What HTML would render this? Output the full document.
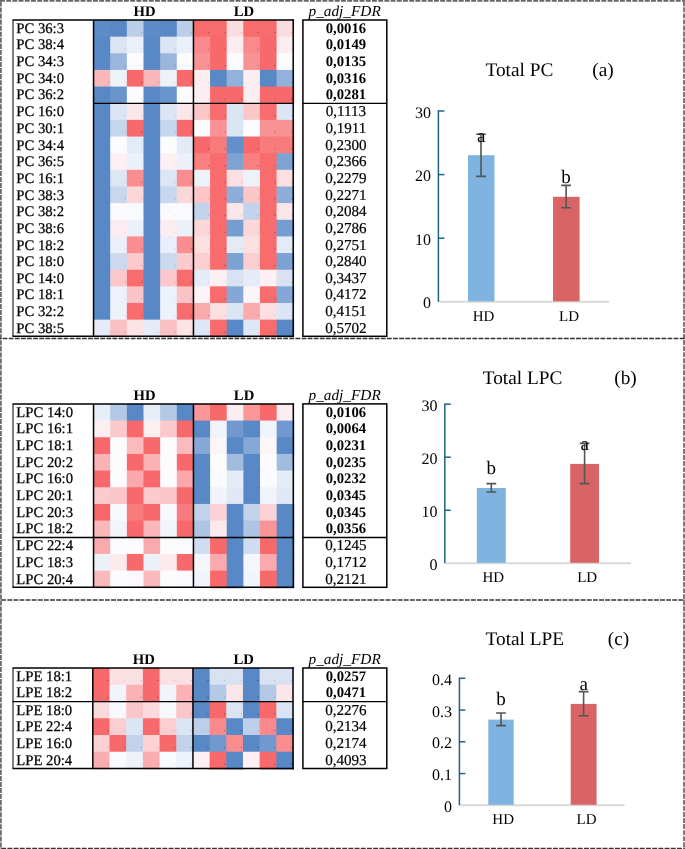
<!DOCTYPE html>
<html><head><meta charset="utf-8"><title>Figure</title>
<style>
html,body{margin:0;padding:0;background:#fff;}
body{width:685px;height:849px;overflow:hidden;}
svg{display:block;will-change:transform;}
text{font-family:"Liberation Serif", serif;fill:#000;text-rendering:geometricPrecision;}
.lab{font-size:14.7px;stroke:#000;stroke-width:0.25px;}
.pb{font-size:14.7px;font-weight:bold;text-anchor:middle;}
.pn{font-size:15.1px;text-anchor:middle;stroke:#000;stroke-width:0.2px;}
.hdr{font-size:14.7px;font-weight:bold;text-anchor:middle;}
.pf{font-size:15.3px;font-style:italic;}
.tick{font-size:16px;text-anchor:end;}
.let{font-size:19px;text-anchor:middle;}
.xl{font-size:15px;text-anchor:middle;}
.ttl{font-size:19.3px;}
</style></head>
<body>
<svg width="685" height="849" viewBox="0 0 685 849">
<rect width="685" height="849" fill="#fff"/>
<rect x="93.55" y="20.00" width="17.65" height="17.65" fill="#5d8bc8"/>
<rect x="110.20" y="20.00" width="17.65" height="17.65" fill="#5888c6"/>
<rect x="126.85" y="20.00" width="17.65" height="17.65" fill="#bccfe9"/>
<rect x="143.50" y="20.00" width="17.65" height="17.65" fill="#5d8bc8"/>
<rect x="160.15" y="20.00" width="17.65" height="17.65" fill="#5888c6"/>
<rect x="176.80" y="20.00" width="17.65" height="17.65" fill="#bccfe9"/>
<rect x="193.45" y="20.00" width="17.62" height="17.65" fill="#f86c6e"/>
<rect x="210.07" y="20.00" width="17.62" height="17.65" fill="#f86c6e"/>
<rect x="226.70" y="20.00" width="17.62" height="17.65" fill="#fbdde0"/>
<rect x="243.32" y="20.00" width="17.62" height="17.65" fill="#f86c6e"/>
<rect x="259.95" y="20.00" width="17.62" height="17.65" fill="#f86c6e"/>
<rect x="276.57" y="20.00" width="17.62" height="17.65" fill="#fbdde0"/>
<rect x="93.55" y="36.65" width="17.65" height="17.65" fill="#5888c6"/>
<rect x="110.20" y="36.65" width="17.65" height="17.65" fill="#dae4f3"/>
<rect x="126.85" y="36.65" width="17.65" height="17.65" fill="#eaeff9"/>
<rect x="143.50" y="36.65" width="17.65" height="17.65" fill="#5888c6"/>
<rect x="160.15" y="36.65" width="17.65" height="17.65" fill="#dae4f3"/>
<rect x="176.80" y="36.65" width="17.65" height="17.65" fill="#eaeff9"/>
<rect x="193.45" y="36.65" width="17.62" height="17.65" fill="#f9898c"/>
<rect x="210.07" y="36.65" width="17.62" height="17.65" fill="#f8696b"/>
<rect x="226.70" y="36.65" width="17.62" height="17.65" fill="#fcedf0"/>
<rect x="243.32" y="36.65" width="17.62" height="17.65" fill="#f9898c"/>
<rect x="259.95" y="36.65" width="17.62" height="17.65" fill="#f8696b"/>
<rect x="276.57" y="36.65" width="17.62" height="17.65" fill="#fcedf0"/>
<rect x="93.55" y="53.29" width="17.65" height="17.65" fill="#5888c6"/>
<rect x="110.20" y="53.29" width="17.65" height="17.65" fill="#9ab6dd"/>
<rect x="126.85" y="53.29" width="17.65" height="17.65" fill="#fcfcff"/>
<rect x="143.50" y="53.29" width="17.65" height="17.65" fill="#5888c6"/>
<rect x="160.15" y="53.29" width="17.65" height="17.65" fill="#9ab6dd"/>
<rect x="176.80" y="53.29" width="17.65" height="17.65" fill="#fcfcff"/>
<rect x="193.45" y="53.29" width="17.62" height="17.65" fill="#f99294"/>
<rect x="210.07" y="53.29" width="17.62" height="17.65" fill="#f8696b"/>
<rect x="226.70" y="53.29" width="17.62" height="17.65" fill="#fcfcff"/>
<rect x="243.32" y="53.29" width="17.62" height="17.65" fill="#f99294"/>
<rect x="259.95" y="53.29" width="17.62" height="17.65" fill="#f8696b"/>
<rect x="276.57" y="53.29" width="17.62" height="17.65" fill="#fcfcff"/>
<rect x="93.55" y="69.94" width="17.65" height="17.65" fill="#fab8bb"/>
<rect x="110.20" y="69.94" width="17.65" height="17.65" fill="#edf2fa"/>
<rect x="126.85" y="69.94" width="17.65" height="17.65" fill="#f8696b"/>
<rect x="143.50" y="69.94" width="17.65" height="17.65" fill="#fab8bb"/>
<rect x="160.15" y="69.94" width="17.65" height="17.65" fill="#edf2fa"/>
<rect x="176.80" y="69.94" width="17.65" height="17.65" fill="#f8696b"/>
<rect x="193.45" y="69.94" width="17.62" height="17.65" fill="#fcedf0"/>
<rect x="210.07" y="69.94" width="17.62" height="17.65" fill="#5888c6"/>
<rect x="226.70" y="69.94" width="17.62" height="17.65" fill="#93b2db"/>
<rect x="243.32" y="69.94" width="17.62" height="17.65" fill="#fcedf0"/>
<rect x="259.95" y="69.94" width="17.62" height="17.65" fill="#5888c6"/>
<rect x="276.57" y="69.94" width="17.62" height="17.65" fill="#93b2db"/>
<rect x="93.55" y="86.59" width="17.65" height="17.65" fill="#5888c6"/>
<rect x="110.20" y="86.59" width="17.65" height="17.65" fill="#6a95cc"/>
<rect x="126.85" y="86.59" width="17.65" height="17.65" fill="#fcfcff"/>
<rect x="143.50" y="86.59" width="17.65" height="17.65" fill="#5888c6"/>
<rect x="160.15" y="86.59" width="17.65" height="17.65" fill="#6a95cc"/>
<rect x="176.80" y="86.59" width="17.65" height="17.65" fill="#fcfcff"/>
<rect x="193.45" y="86.59" width="17.62" height="17.65" fill="#fcedf0"/>
<rect x="210.07" y="86.59" width="17.62" height="17.65" fill="#f8696b"/>
<rect x="226.70" y="86.59" width="17.62" height="17.65" fill="#f8696b"/>
<rect x="243.32" y="86.59" width="17.62" height="17.65" fill="#fcedf0"/>
<rect x="259.95" y="86.59" width="17.62" height="17.65" fill="#f8696b"/>
<rect x="276.57" y="86.59" width="17.62" height="17.65" fill="#f8696b"/>
<rect x="93.55" y="103.24" width="17.65" height="17.65" fill="#5888c6"/>
<rect x="110.20" y="103.24" width="17.65" height="17.65" fill="#dbe5f4"/>
<rect x="126.85" y="103.24" width="17.65" height="17.65" fill="#fbe6e9"/>
<rect x="143.50" y="103.24" width="17.65" height="17.65" fill="#5888c6"/>
<rect x="160.15" y="103.24" width="17.65" height="17.65" fill="#dbe5f4"/>
<rect x="176.80" y="103.24" width="17.65" height="17.65" fill="#fbe6e9"/>
<rect x="193.45" y="103.24" width="17.62" height="17.65" fill="#fbc6c8"/>
<rect x="210.07" y="103.24" width="17.62" height="17.65" fill="#f86c6e"/>
<rect x="226.70" y="103.24" width="17.62" height="17.65" fill="#dbe5f4"/>
<rect x="243.32" y="103.24" width="17.62" height="17.65" fill="#fbc6c8"/>
<rect x="259.95" y="103.24" width="17.62" height="17.65" fill="#f86c6e"/>
<rect x="276.57" y="103.24" width="17.62" height="17.65" fill="#dbe5f4"/>
<rect x="93.55" y="119.88" width="17.65" height="17.65" fill="#5888c6"/>
<rect x="110.20" y="119.88" width="17.65" height="17.65" fill="#c6d6ec"/>
<rect x="126.85" y="119.88" width="17.65" height="17.65" fill="#f8696b"/>
<rect x="143.50" y="119.88" width="17.65" height="17.65" fill="#5888c6"/>
<rect x="160.15" y="119.88" width="17.65" height="17.65" fill="#c6d6ec"/>
<rect x="176.80" y="119.88" width="17.65" height="17.65" fill="#f8696b"/>
<rect x="193.45" y="119.88" width="17.62" height="17.65" fill="#fcfcff"/>
<rect x="210.07" y="119.88" width="17.62" height="17.65" fill="#f99294"/>
<rect x="226.70" y="119.88" width="17.62" height="17.65" fill="#dbe5f4"/>
<rect x="243.32" y="119.88" width="17.62" height="17.65" fill="#fcfcff"/>
<rect x="259.95" y="119.88" width="17.62" height="17.65" fill="#f99294"/>
<rect x="276.57" y="119.88" width="17.62" height="17.65" fill="#f99294"/>
<rect x="93.55" y="136.53" width="17.65" height="17.65" fill="#5888c6"/>
<rect x="110.20" y="136.53" width="17.65" height="17.65" fill="#fcfcff"/>
<rect x="126.85" y="136.53" width="17.65" height="17.65" fill="#e3ebf6"/>
<rect x="143.50" y="136.53" width="17.65" height="17.65" fill="#5888c6"/>
<rect x="160.15" y="136.53" width="17.65" height="17.65" fill="#fcfcff"/>
<rect x="176.80" y="136.53" width="17.65" height="17.65" fill="#e3ebf6"/>
<rect x="193.45" y="136.53" width="17.62" height="17.65" fill="#f8696b"/>
<rect x="210.07" y="136.53" width="17.62" height="17.65" fill="#f87b7d"/>
<rect x="226.70" y="136.53" width="17.62" height="17.65" fill="#6390ca"/>
<rect x="243.32" y="136.53" width="17.62" height="17.65" fill="#f8696b"/>
<rect x="259.95" y="136.53" width="17.62" height="17.65" fill="#f87b7d"/>
<rect x="276.57" y="136.53" width="17.62" height="17.65" fill="#f87b7d"/>
<rect x="93.55" y="153.18" width="17.65" height="17.65" fill="#5888c6"/>
<rect x="110.20" y="153.18" width="17.65" height="17.65" fill="#fcf0f3"/>
<rect x="126.85" y="153.18" width="17.65" height="17.65" fill="#ecf0f9"/>
<rect x="143.50" y="153.18" width="17.65" height="17.65" fill="#5888c6"/>
<rect x="160.15" y="153.18" width="17.65" height="17.65" fill="#fcf0f3"/>
<rect x="176.80" y="153.18" width="17.65" height="17.65" fill="#ecf0f9"/>
<rect x="193.45" y="153.18" width="17.62" height="17.65" fill="#f97f81"/>
<rect x="210.07" y="153.18" width="17.62" height="17.65" fill="#f86c6e"/>
<rect x="226.70" y="153.18" width="17.62" height="17.65" fill="#7ea3d3"/>
<rect x="243.32" y="153.18" width="17.62" height="17.65" fill="#f97f81"/>
<rect x="259.95" y="153.18" width="17.62" height="17.65" fill="#f86c6e"/>
<rect x="276.57" y="153.18" width="17.62" height="17.65" fill="#7ea3d3"/>
<rect x="93.55" y="169.83" width="17.65" height="17.65" fill="#5888c6"/>
<rect x="110.20" y="169.83" width="17.65" height="17.65" fill="#dde6f4"/>
<rect x="126.85" y="169.83" width="17.65" height="17.65" fill="#f98d8f"/>
<rect x="143.50" y="169.83" width="17.65" height="17.65" fill="#5888c6"/>
<rect x="160.15" y="169.83" width="17.65" height="17.65" fill="#dde6f4"/>
<rect x="176.80" y="169.83" width="17.65" height="17.65" fill="#f98d8f"/>
<rect x="193.45" y="169.83" width="17.62" height="17.65" fill="#edf2fa"/>
<rect x="210.07" y="169.83" width="17.62" height="17.65" fill="#f86c6e"/>
<rect x="226.70" y="169.83" width="17.62" height="17.65" fill="#fbdfe1"/>
<rect x="243.32" y="169.83" width="17.62" height="17.65" fill="#edf2fa"/>
<rect x="259.95" y="169.83" width="17.62" height="17.65" fill="#f86c6e"/>
<rect x="276.57" y="169.83" width="17.62" height="17.65" fill="#fbdfe1"/>
<rect x="93.55" y="186.47" width="17.65" height="17.65" fill="#5888c6"/>
<rect x="110.20" y="186.47" width="17.65" height="17.65" fill="#c8d7ed"/>
<rect x="126.85" y="186.47" width="17.65" height="17.65" fill="#fbd7da"/>
<rect x="143.50" y="186.47" width="17.65" height="17.65" fill="#5888c6"/>
<rect x="160.15" y="186.47" width="17.65" height="17.65" fill="#c8d7ed"/>
<rect x="176.80" y="186.47" width="17.65" height="17.65" fill="#fbd7da"/>
<rect x="193.45" y="186.47" width="17.62" height="17.65" fill="#fbc6c8"/>
<rect x="210.07" y="186.47" width="17.62" height="17.65" fill="#f86c6e"/>
<rect x="226.70" y="186.47" width="17.62" height="17.65" fill="#8eaed9"/>
<rect x="243.32" y="186.47" width="17.62" height="17.65" fill="#fbc6c8"/>
<rect x="259.95" y="186.47" width="17.62" height="17.65" fill="#f86c6e"/>
<rect x="276.57" y="186.47" width="17.62" height="17.65" fill="#8eaed9"/>
<rect x="93.55" y="203.12" width="17.65" height="17.65" fill="#5888c6"/>
<rect x="110.20" y="203.12" width="17.65" height="17.65" fill="#fcf9fc"/>
<rect x="126.85" y="203.12" width="17.65" height="17.65" fill="#f9fafe"/>
<rect x="143.50" y="203.12" width="17.65" height="17.65" fill="#5888c6"/>
<rect x="160.15" y="203.12" width="17.65" height="17.65" fill="#fcf9fc"/>
<rect x="176.80" y="203.12" width="17.65" height="17.65" fill="#f9fafe"/>
<rect x="193.45" y="203.12" width="17.62" height="17.65" fill="#c3d3eb"/>
<rect x="210.07" y="203.12" width="17.62" height="17.65" fill="#f86c6e"/>
<rect x="226.70" y="203.12" width="17.62" height="17.65" fill="#fbe6e9"/>
<rect x="243.32" y="203.12" width="17.62" height="17.65" fill="#c3d3eb"/>
<rect x="259.95" y="203.12" width="17.62" height="17.65" fill="#f86c6e"/>
<rect x="276.57" y="203.12" width="17.62" height="17.65" fill="#fbe6e9"/>
<rect x="93.55" y="219.77" width="17.65" height="17.65" fill="#5888c6"/>
<rect x="110.20" y="219.77" width="17.65" height="17.65" fill="#fcedf0"/>
<rect x="126.85" y="219.77" width="17.65" height="17.65" fill="#ecf0f9"/>
<rect x="143.50" y="219.77" width="17.65" height="17.65" fill="#5888c6"/>
<rect x="160.15" y="219.77" width="17.65" height="17.65" fill="#fcedf0"/>
<rect x="176.80" y="219.77" width="17.65" height="17.65" fill="#ecf0f9"/>
<rect x="193.45" y="219.77" width="17.62" height="17.65" fill="#fbd7da"/>
<rect x="210.07" y="219.77" width="17.62" height="17.65" fill="#f86c6e"/>
<rect x="226.70" y="219.77" width="17.62" height="17.65" fill="#769dd0"/>
<rect x="243.32" y="219.77" width="17.62" height="17.65" fill="#fbd7da"/>
<rect x="259.95" y="219.77" width="17.62" height="17.65" fill="#f86c6e"/>
<rect x="276.57" y="219.77" width="17.62" height="17.65" fill="#769dd0"/>
<rect x="93.55" y="236.42" width="17.65" height="17.65" fill="#5888c6"/>
<rect x="110.20" y="236.42" width="17.65" height="17.65" fill="#eaeff9"/>
<rect x="126.85" y="236.42" width="17.65" height="17.65" fill="#f98d8f"/>
<rect x="143.50" y="236.42" width="17.65" height="17.65" fill="#5888c6"/>
<rect x="160.15" y="236.42" width="17.65" height="17.65" fill="#eaeff9"/>
<rect x="176.80" y="236.42" width="17.65" height="17.65" fill="#f98d8f"/>
<rect x="193.45" y="236.42" width="17.62" height="17.65" fill="#fbdfe1"/>
<rect x="210.07" y="236.42" width="17.62" height="17.65" fill="#f86c6e"/>
<rect x="226.70" y="236.42" width="17.62" height="17.65" fill="#e3ebf6"/>
<rect x="243.32" y="236.42" width="17.62" height="17.65" fill="#fbdfe1"/>
<rect x="259.95" y="236.42" width="17.62" height="17.65" fill="#f86c6e"/>
<rect x="276.57" y="236.42" width="17.62" height="17.65" fill="#e3ebf6"/>
<rect x="93.55" y="253.06" width="17.65" height="17.65" fill="#5888c6"/>
<rect x="110.20" y="253.06" width="17.65" height="17.65" fill="#cbd9ee"/>
<rect x="126.85" y="253.06" width="17.65" height="17.65" fill="#fbcacd"/>
<rect x="143.50" y="253.06" width="17.65" height="17.65" fill="#5888c6"/>
<rect x="160.15" y="253.06" width="17.65" height="17.65" fill="#cbd9ee"/>
<rect x="176.80" y="253.06" width="17.65" height="17.65" fill="#fbcacd"/>
<rect x="193.45" y="253.06" width="17.62" height="17.65" fill="#fbced1"/>
<rect x="210.07" y="253.06" width="17.62" height="17.65" fill="#f86c6e"/>
<rect x="226.70" y="253.06" width="17.62" height="17.65" fill="#7ca2d3"/>
<rect x="243.32" y="253.06" width="17.62" height="17.65" fill="#fbced1"/>
<rect x="259.95" y="253.06" width="17.62" height="17.65" fill="#f86c6e"/>
<rect x="276.57" y="253.06" width="17.62" height="17.65" fill="#7ca2d3"/>
<rect x="93.55" y="269.71" width="17.65" height="17.65" fill="#5888c6"/>
<rect x="110.20" y="269.71" width="17.65" height="17.65" fill="#fbc9cb"/>
<rect x="126.85" y="269.71" width="17.65" height="17.65" fill="#f86c6e"/>
<rect x="143.50" y="269.71" width="17.65" height="17.65" fill="#5888c6"/>
<rect x="160.15" y="269.71" width="17.65" height="17.65" fill="#fbc9cb"/>
<rect x="176.80" y="269.71" width="17.65" height="17.65" fill="#f86c6e"/>
<rect x="193.45" y="269.71" width="17.62" height="17.65" fill="#e5ecf7"/>
<rect x="210.07" y="269.71" width="17.62" height="17.65" fill="#fcf0f3"/>
<rect x="226.70" y="269.71" width="17.62" height="17.65" fill="#d8e2f2"/>
<rect x="243.32" y="269.71" width="17.62" height="17.65" fill="#e5ecf7"/>
<rect x="259.95" y="269.71" width="17.62" height="17.65" fill="#fcf0f3"/>
<rect x="276.57" y="269.71" width="17.62" height="17.65" fill="#d8e2f2"/>
<rect x="93.55" y="286.36" width="17.65" height="17.65" fill="#5888c6"/>
<rect x="110.20" y="286.36" width="17.65" height="17.65" fill="#edf2fa"/>
<rect x="126.85" y="286.36" width="17.65" height="17.65" fill="#fac3c5"/>
<rect x="143.50" y="286.36" width="17.65" height="17.65" fill="#5888c6"/>
<rect x="160.15" y="286.36" width="17.65" height="17.65" fill="#edf2fa"/>
<rect x="176.80" y="286.36" width="17.65" height="17.65" fill="#fac3c5"/>
<rect x="193.45" y="286.36" width="17.62" height="17.65" fill="#fcf5f8"/>
<rect x="210.07" y="286.36" width="17.62" height="17.65" fill="#f86c6e"/>
<rect x="226.70" y="286.36" width="17.62" height="17.65" fill="#84a7d5"/>
<rect x="243.32" y="286.36" width="17.62" height="17.65" fill="#fcf5f8"/>
<rect x="259.95" y="286.36" width="17.62" height="17.65" fill="#f86c6e"/>
<rect x="276.57" y="286.36" width="17.62" height="17.65" fill="#84a7d5"/>
<rect x="93.55" y="303.01" width="17.65" height="17.65" fill="#5888c6"/>
<rect x="110.20" y="303.01" width="17.65" height="17.65" fill="#edf2fa"/>
<rect x="126.85" y="303.01" width="17.65" height="17.65" fill="#f86c6e"/>
<rect x="143.50" y="303.01" width="17.65" height="17.65" fill="#5888c6"/>
<rect x="160.15" y="303.01" width="17.65" height="17.65" fill="#edf2fa"/>
<rect x="176.80" y="303.01" width="17.65" height="17.65" fill="#f86c6e"/>
<rect x="193.45" y="303.01" width="17.62" height="17.65" fill="#faaaac"/>
<rect x="210.07" y="303.01" width="17.62" height="17.65" fill="#fbdfe1"/>
<rect x="226.70" y="303.01" width="17.62" height="17.65" fill="#dbe5f4"/>
<rect x="243.32" y="303.01" width="17.62" height="17.65" fill="#faaaac"/>
<rect x="259.95" y="303.01" width="17.62" height="17.65" fill="#fbdfe1"/>
<rect x="276.57" y="303.01" width="17.62" height="17.65" fill="#dbe5f4"/>
<rect x="93.55" y="319.65" width="17.65" height="17.65" fill="#e5ecf7"/>
<rect x="110.20" y="319.65" width="17.65" height="17.65" fill="#fac0c2"/>
<rect x="126.85" y="319.65" width="17.65" height="17.65" fill="#fbe3e6"/>
<rect x="143.50" y="319.65" width="17.65" height="17.65" fill="#e5ecf7"/>
<rect x="160.15" y="319.65" width="17.65" height="17.65" fill="#fac0c2"/>
<rect x="176.80" y="319.65" width="17.65" height="17.65" fill="#fbe3e6"/>
<rect x="193.45" y="319.65" width="17.62" height="17.65" fill="#dee7f5"/>
<rect x="210.07" y="319.65" width="17.62" height="17.65" fill="#f86c6e"/>
<rect x="226.70" y="319.65" width="17.62" height="17.65" fill="#5888c6"/>
<rect x="243.32" y="319.65" width="17.62" height="17.65" fill="#dee7f5"/>
<rect x="259.95" y="319.65" width="17.62" height="17.65" fill="#f86c6e"/>
<rect x="276.57" y="319.65" width="17.62" height="17.65" fill="#5888c6"/>
<rect x="141.30" y="32.00" width="1" height="1" fill="#000" fill-opacity="0.24"/>
<rect x="191.25" y="32.00" width="1" height="1" fill="#000" fill-opacity="0.24"/>
<rect x="207.88" y="32.00" width="1" height="1" fill="#000" fill-opacity="0.41"/>
<rect x="224.50" y="32.00" width="1" height="1" fill="#000" fill-opacity="0.41"/>
<rect x="241.12" y="32.00" width="1" height="1" fill="#000" fill-opacity="0.18"/>
<rect x="257.75" y="32.00" width="1" height="1" fill="#000" fill-opacity="0.41"/>
<rect x="274.38" y="32.00" width="1" height="1" fill="#000" fill-opacity="0.41"/>
<rect x="291.00" y="32.00" width="1" height="1" fill="#000" fill-opacity="0.18"/>
<rect x="124.65" y="48.65" width="1" height="1" fill="#000" fill-opacity="0.18"/>
<rect x="141.30" y="48.65" width="1" height="1" fill="#000" fill-opacity="0.15"/>
<rect x="174.60" y="48.65" width="1" height="1" fill="#000" fill-opacity="0.18"/>
<rect x="191.25" y="48.65" width="1" height="1" fill="#000" fill-opacity="0.15"/>
<rect x="207.88" y="48.65" width="1" height="1" fill="#000" fill-opacity="0.35"/>
<rect x="224.50" y="48.65" width="1" height="1" fill="#000" fill-opacity="0.42"/>
<rect x="241.12" y="48.65" width="1" height="1" fill="#000" fill-opacity="0.15"/>
<rect x="257.75" y="48.65" width="1" height="1" fill="#000" fill-opacity="0.35"/>
<rect x="274.38" y="48.65" width="1" height="1" fill="#000" fill-opacity="0.42"/>
<rect x="291.00" y="48.65" width="1" height="1" fill="#000" fill-opacity="0.15"/>
<rect x="124.65" y="65.29" width="1" height="1" fill="#000" fill-opacity="0.30"/>
<rect x="141.30" y="65.29" width="1" height="1" fill="#000" fill-opacity="0.12"/>
<rect x="174.60" y="65.29" width="1" height="1" fill="#000" fill-opacity="0.30"/>
<rect x="191.25" y="65.29" width="1" height="1" fill="#000" fill-opacity="0.12"/>
<rect x="207.88" y="65.29" width="1" height="1" fill="#000" fill-opacity="0.34"/>
<rect x="224.50" y="65.29" width="1" height="1" fill="#000" fill-opacity="0.42"/>
<rect x="241.12" y="65.29" width="1" height="1" fill="#000" fill-opacity="0.12"/>
<rect x="257.75" y="65.29" width="1" height="1" fill="#000" fill-opacity="0.34"/>
<rect x="274.38" y="65.29" width="1" height="1" fill="#000" fill-opacity="0.42"/>
<rect x="291.00" y="65.29" width="1" height="1" fill="#000" fill-opacity="0.12"/>
<rect x="108.00" y="81.94" width="1" height="1" fill="#000" fill-opacity="0.26"/>
<rect x="124.65" y="81.94" width="1" height="1" fill="#000" fill-opacity="0.15"/>
<rect x="141.30" y="81.94" width="1" height="1" fill="#000" fill-opacity="0.42"/>
<rect x="157.95" y="81.94" width="1" height="1" fill="#000" fill-opacity="0.26"/>
<rect x="174.60" y="81.94" width="1" height="1" fill="#000" fill-opacity="0.15"/>
<rect x="191.25" y="81.94" width="1" height="1" fill="#000" fill-opacity="0.42"/>
<rect x="207.88" y="81.94" width="1" height="1" fill="#000" fill-opacity="0.15"/>
<rect x="241.12" y="81.94" width="1" height="1" fill="#000" fill-opacity="0.31"/>
<rect x="257.75" y="81.94" width="1" height="1" fill="#000" fill-opacity="0.15"/>
<rect x="291.00" y="81.94" width="1" height="1" fill="#000" fill-opacity="0.31"/>
<rect x="141.30" y="98.59" width="1" height="1" fill="#000" fill-opacity="0.12"/>
<rect x="191.25" y="98.59" width="1" height="1" fill="#000" fill-opacity="0.12"/>
<rect x="207.88" y="98.59" width="1" height="1" fill="#000" fill-opacity="0.15"/>
<rect x="224.50" y="98.59" width="1" height="1" fill="#000" fill-opacity="0.42"/>
<rect x="241.12" y="98.59" width="1" height="1" fill="#000" fill-opacity="0.42"/>
<rect x="257.75" y="98.59" width="1" height="1" fill="#000" fill-opacity="0.15"/>
<rect x="274.38" y="98.59" width="1" height="1" fill="#000" fill-opacity="0.42"/>
<rect x="291.00" y="98.59" width="1" height="1" fill="#000" fill-opacity="0.42"/>
<rect x="124.65" y="115.24" width="1" height="1" fill="#000" fill-opacity="0.18"/>
<rect x="141.30" y="115.24" width="1" height="1" fill="#000" fill-opacity="0.16"/>
<rect x="174.60" y="115.24" width="1" height="1" fill="#000" fill-opacity="0.18"/>
<rect x="191.25" y="115.24" width="1" height="1" fill="#000" fill-opacity="0.16"/>
<rect x="207.88" y="115.24" width="1" height="1" fill="#000" fill-opacity="0.23"/>
<rect x="224.50" y="115.24" width="1" height="1" fill="#000" fill-opacity="0.41"/>
<rect x="241.12" y="115.24" width="1" height="1" fill="#000" fill-opacity="0.18"/>
<rect x="257.75" y="115.24" width="1" height="1" fill="#000" fill-opacity="0.23"/>
<rect x="274.38" y="115.24" width="1" height="1" fill="#000" fill-opacity="0.41"/>
<rect x="291.00" y="115.24" width="1" height="1" fill="#000" fill-opacity="0.18"/>
<rect x="124.65" y="131.88" width="1" height="1" fill="#000" fill-opacity="0.22"/>
<rect x="141.30" y="131.88" width="1" height="1" fill="#000" fill-opacity="0.42"/>
<rect x="174.60" y="131.88" width="1" height="1" fill="#000" fill-opacity="0.22"/>
<rect x="191.25" y="131.88" width="1" height="1" fill="#000" fill-opacity="0.42"/>
<rect x="207.88" y="131.88" width="1" height="1" fill="#000" fill-opacity="0.12"/>
<rect x="224.50" y="131.88" width="1" height="1" fill="#000" fill-opacity="0.34"/>
<rect x="241.12" y="131.88" width="1" height="1" fill="#000" fill-opacity="0.18"/>
<rect x="257.75" y="131.88" width="1" height="1" fill="#000" fill-opacity="0.12"/>
<rect x="274.38" y="131.88" width="1" height="1" fill="#000" fill-opacity="0.34"/>
<rect x="291.00" y="131.88" width="1" height="1" fill="#000" fill-opacity="0.34"/>
<rect x="124.65" y="148.53" width="1" height="1" fill="#000" fill-opacity="0.12"/>
<rect x="141.30" y="148.53" width="1" height="1" fill="#000" fill-opacity="0.16"/>
<rect x="174.60" y="148.53" width="1" height="1" fill="#000" fill-opacity="0.12"/>
<rect x="191.25" y="148.53" width="1" height="1" fill="#000" fill-opacity="0.16"/>
<rect x="207.88" y="148.53" width="1" height="1" fill="#000" fill-opacity="0.42"/>
<rect x="224.50" y="148.53" width="1" height="1" fill="#000" fill-opacity="0.38"/>
<rect x="257.75" y="148.53" width="1" height="1" fill="#000" fill-opacity="0.42"/>
<rect x="274.38" y="148.53" width="1" height="1" fill="#000" fill-opacity="0.38"/>
<rect x="291.00" y="148.53" width="1" height="1" fill="#000" fill-opacity="0.38"/>
<rect x="124.65" y="165.18" width="1" height="1" fill="#000" fill-opacity="0.14"/>
<rect x="141.30" y="165.18" width="1" height="1" fill="#000" fill-opacity="0.15"/>
<rect x="174.60" y="165.18" width="1" height="1" fill="#000" fill-opacity="0.14"/>
<rect x="191.25" y="165.18" width="1" height="1" fill="#000" fill-opacity="0.15"/>
<rect x="207.88" y="165.18" width="1" height="1" fill="#000" fill-opacity="0.38"/>
<rect x="224.50" y="165.18" width="1" height="1" fill="#000" fill-opacity="0.41"/>
<rect x="257.75" y="165.18" width="1" height="1" fill="#000" fill-opacity="0.38"/>
<rect x="274.38" y="165.18" width="1" height="1" fill="#000" fill-opacity="0.41"/>
<rect x="124.65" y="181.83" width="1" height="1" fill="#000" fill-opacity="0.18"/>
<rect x="141.30" y="181.83" width="1" height="1" fill="#000" fill-opacity="0.35"/>
<rect x="174.60" y="181.83" width="1" height="1" fill="#000" fill-opacity="0.18"/>
<rect x="191.25" y="181.83" width="1" height="1" fill="#000" fill-opacity="0.35"/>
<rect x="207.88" y="181.83" width="1" height="1" fill="#000" fill-opacity="0.15"/>
<rect x="224.50" y="181.83" width="1" height="1" fill="#000" fill-opacity="0.41"/>
<rect x="241.12" y="181.83" width="1" height="1" fill="#000" fill-opacity="0.18"/>
<rect x="257.75" y="181.83" width="1" height="1" fill="#000" fill-opacity="0.15"/>
<rect x="274.38" y="181.83" width="1" height="1" fill="#000" fill-opacity="0.41"/>
<rect x="291.00" y="181.83" width="1" height="1" fill="#000" fill-opacity="0.18"/>
<rect x="124.65" y="198.47" width="1" height="1" fill="#000" fill-opacity="0.22"/>
<rect x="141.30" y="198.47" width="1" height="1" fill="#000" fill-opacity="0.20"/>
<rect x="174.60" y="198.47" width="1" height="1" fill="#000" fill-opacity="0.22"/>
<rect x="191.25" y="198.47" width="1" height="1" fill="#000" fill-opacity="0.20"/>
<rect x="207.88" y="198.47" width="1" height="1" fill="#000" fill-opacity="0.23"/>
<rect x="224.50" y="198.47" width="1" height="1" fill="#000" fill-opacity="0.41"/>
<rect x="241.12" y="198.47" width="1" height="1" fill="#000" fill-opacity="0.32"/>
<rect x="257.75" y="198.47" width="1" height="1" fill="#000" fill-opacity="0.23"/>
<rect x="274.38" y="198.47" width="1" height="1" fill="#000" fill-opacity="0.41"/>
<rect x="291.00" y="198.47" width="1" height="1" fill="#000" fill-opacity="0.32"/>
<rect x="124.65" y="215.12" width="1" height="1" fill="#000" fill-opacity="0.13"/>
<rect x="141.30" y="215.12" width="1" height="1" fill="#000" fill-opacity="0.13"/>
<rect x="174.60" y="215.12" width="1" height="1" fill="#000" fill-opacity="0.13"/>
<rect x="191.25" y="215.12" width="1" height="1" fill="#000" fill-opacity="0.13"/>
<rect x="207.88" y="215.12" width="1" height="1" fill="#000" fill-opacity="0.22"/>
<rect x="224.50" y="215.12" width="1" height="1" fill="#000" fill-opacity="0.41"/>
<rect x="241.12" y="215.12" width="1" height="1" fill="#000" fill-opacity="0.16"/>
<rect x="257.75" y="215.12" width="1" height="1" fill="#000" fill-opacity="0.22"/>
<rect x="274.38" y="215.12" width="1" height="1" fill="#000" fill-opacity="0.41"/>
<rect x="291.00" y="215.12" width="1" height="1" fill="#000" fill-opacity="0.16"/>
<rect x="124.65" y="231.77" width="1" height="1" fill="#000" fill-opacity="0.15"/>
<rect x="141.30" y="231.77" width="1" height="1" fill="#000" fill-opacity="0.15"/>
<rect x="174.60" y="231.77" width="1" height="1" fill="#000" fill-opacity="0.15"/>
<rect x="191.25" y="231.77" width="1" height="1" fill="#000" fill-opacity="0.15"/>
<rect x="207.88" y="231.77" width="1" height="1" fill="#000" fill-opacity="0.20"/>
<rect x="224.50" y="231.77" width="1" height="1" fill="#000" fill-opacity="0.41"/>
<rect x="257.75" y="231.77" width="1" height="1" fill="#000" fill-opacity="0.20"/>
<rect x="274.38" y="231.77" width="1" height="1" fill="#000" fill-opacity="0.41"/>
<rect x="124.65" y="248.42" width="1" height="1" fill="#000" fill-opacity="0.15"/>
<rect x="141.30" y="248.42" width="1" height="1" fill="#000" fill-opacity="0.35"/>
<rect x="174.60" y="248.42" width="1" height="1" fill="#000" fill-opacity="0.15"/>
<rect x="191.25" y="248.42" width="1" height="1" fill="#000" fill-opacity="0.35"/>
<rect x="207.88" y="248.42" width="1" height="1" fill="#000" fill-opacity="0.18"/>
<rect x="224.50" y="248.42" width="1" height="1" fill="#000" fill-opacity="0.41"/>
<rect x="241.12" y="248.42" width="1" height="1" fill="#000" fill-opacity="0.16"/>
<rect x="257.75" y="248.42" width="1" height="1" fill="#000" fill-opacity="0.18"/>
<rect x="274.38" y="248.42" width="1" height="1" fill="#000" fill-opacity="0.41"/>
<rect x="291.00" y="248.42" width="1" height="1" fill="#000" fill-opacity="0.16"/>
<rect x="124.65" y="265.06" width="1" height="1" fill="#000" fill-opacity="0.21"/>
<rect x="141.30" y="265.06" width="1" height="1" fill="#000" fill-opacity="0.22"/>
<rect x="174.60" y="265.06" width="1" height="1" fill="#000" fill-opacity="0.21"/>
<rect x="191.25" y="265.06" width="1" height="1" fill="#000" fill-opacity="0.22"/>
<rect x="207.88" y="265.06" width="1" height="1" fill="#000" fill-opacity="0.21"/>
<rect x="224.50" y="265.06" width="1" height="1" fill="#000" fill-opacity="0.41"/>
<rect x="257.75" y="265.06" width="1" height="1" fill="#000" fill-opacity="0.21"/>
<rect x="274.38" y="265.06" width="1" height="1" fill="#000" fill-opacity="0.41"/>
<rect x="124.65" y="281.71" width="1" height="1" fill="#000" fill-opacity="0.22"/>
<rect x="141.30" y="281.71" width="1" height="1" fill="#000" fill-opacity="0.41"/>
<rect x="174.60" y="281.71" width="1" height="1" fill="#000" fill-opacity="0.22"/>
<rect x="191.25" y="281.71" width="1" height="1" fill="#000" fill-opacity="0.41"/>
<rect x="207.88" y="281.71" width="1" height="1" fill="#000" fill-opacity="0.16"/>
<rect x="224.50" y="281.71" width="1" height="1" fill="#000" fill-opacity="0.14"/>
<rect x="241.12" y="281.71" width="1" height="1" fill="#000" fill-opacity="0.19"/>
<rect x="257.75" y="281.71" width="1" height="1" fill="#000" fill-opacity="0.16"/>
<rect x="274.38" y="281.71" width="1" height="1" fill="#000" fill-opacity="0.14"/>
<rect x="291.00" y="281.71" width="1" height="1" fill="#000" fill-opacity="0.19"/>
<rect x="124.65" y="298.36" width="1" height="1" fill="#000" fill-opacity="0.15"/>
<rect x="141.30" y="298.36" width="1" height="1" fill="#000" fill-opacity="0.24"/>
<rect x="174.60" y="298.36" width="1" height="1" fill="#000" fill-opacity="0.15"/>
<rect x="191.25" y="298.36" width="1" height="1" fill="#000" fill-opacity="0.24"/>
<rect x="207.88" y="298.36" width="1" height="1" fill="#000" fill-opacity="0.14"/>
<rect x="224.50" y="298.36" width="1" height="1" fill="#000" fill-opacity="0.41"/>
<rect x="257.75" y="298.36" width="1" height="1" fill="#000" fill-opacity="0.14"/>
<rect x="274.38" y="298.36" width="1" height="1" fill="#000" fill-opacity="0.41"/>
<rect x="124.65" y="315.01" width="1" height="1" fill="#000" fill-opacity="0.15"/>
<rect x="141.30" y="315.01" width="1" height="1" fill="#000" fill-opacity="0.41"/>
<rect x="174.60" y="315.01" width="1" height="1" fill="#000" fill-opacity="0.15"/>
<rect x="191.25" y="315.01" width="1" height="1" fill="#000" fill-opacity="0.41"/>
<rect x="207.88" y="315.01" width="1" height="1" fill="#000" fill-opacity="0.29"/>
<rect x="224.50" y="315.01" width="1" height="1" fill="#000" fill-opacity="0.18"/>
<rect x="241.12" y="315.01" width="1" height="1" fill="#000" fill-opacity="0.18"/>
<rect x="257.75" y="315.01" width="1" height="1" fill="#000" fill-opacity="0.29"/>
<rect x="274.38" y="315.01" width="1" height="1" fill="#000" fill-opacity="0.18"/>
<rect x="291.00" y="315.01" width="1" height="1" fill="#000" fill-opacity="0.18"/>
<rect x="108.00" y="331.65" width="1" height="1" fill="#000" fill-opacity="0.16"/>
<rect x="124.65" y="331.65" width="1" height="1" fill="#000" fill-opacity="0.24"/>
<rect x="141.30" y="331.65" width="1" height="1" fill="#000" fill-opacity="0.17"/>
<rect x="157.95" y="331.65" width="1" height="1" fill="#000" fill-opacity="0.16"/>
<rect x="174.60" y="331.65" width="1" height="1" fill="#000" fill-opacity="0.24"/>
<rect x="191.25" y="331.65" width="1" height="1" fill="#000" fill-opacity="0.17"/>
<rect x="207.88" y="331.65" width="1" height="1" fill="#000" fill-opacity="0.17"/>
<rect x="224.50" y="331.65" width="1" height="1" fill="#000" fill-opacity="0.41"/>
<rect x="257.75" y="331.65" width="1" height="1" fill="#000" fill-opacity="0.17"/>
<rect x="274.38" y="331.65" width="1" height="1" fill="#000" fill-opacity="0.41"/>
<text x="16.3" y="32.70" class="lab">PC 36:3</text>
<text x="16.3" y="49.35" class="lab">PC 38:4</text>
<text x="16.3" y="65.99" class="lab">PC 34:3</text>
<text x="16.3" y="82.64" class="lab">PC 34:0</text>
<text x="16.3" y="99.29" class="lab">PC 36:2</text>
<text x="16.3" y="116.34" class="lab">PC 16:0</text>
<text x="16.3" y="132.98" class="lab">PC 30:1</text>
<text x="16.3" y="149.63" class="lab">PC 34:4</text>
<text x="16.3" y="166.28" class="lab">PC 36:5</text>
<text x="16.3" y="182.93" class="lab">PC 16:1</text>
<text x="16.3" y="199.57" class="lab">PC 38:3</text>
<text x="16.3" y="216.22" class="lab">PC 38:2</text>
<text x="16.3" y="232.87" class="lab">PC 38:6</text>
<text x="16.3" y="249.52" class="lab">PC 18:2</text>
<text x="16.3" y="266.16" class="lab">PC 18:0</text>
<text x="16.3" y="282.81" class="lab">PC 14:0</text>
<text x="16.3" y="299.46" class="lab">PC 18:1</text>
<text x="16.3" y="316.11" class="lab">PC 32:2</text>
<text x="16.3" y="332.75" class="lab">PC 38:5</text>
<text x="345.90" y="32.70" class="pb">0,0016</text>
<text x="345.90" y="49.35" class="pb">0,0149</text>
<text x="345.90" y="65.99" class="pb">0,0135</text>
<text x="345.90" y="82.64" class="pb">0,0316</text>
<text x="345.90" y="99.29" class="pb">0,0281</text>
<text x="345.90" y="116.34" class="pn">0,1113</text>
<text x="345.90" y="132.98" class="pn">0,1911</text>
<text x="345.90" y="149.63" class="pn">0,2300</text>
<text x="345.90" y="166.28" class="pn">0,2366</text>
<text x="345.90" y="182.93" class="pn">0,2279</text>
<text x="345.90" y="199.57" class="pn">0,2271</text>
<text x="345.90" y="216.22" class="pn">0,2084</text>
<text x="345.90" y="232.87" class="pn">0,2786</text>
<text x="345.90" y="249.52" class="pn">0,2751</text>
<text x="345.90" y="266.16" class="pn">0,2840</text>
<text x="345.90" y="282.81" class="pn">0,3437</text>
<text x="345.90" y="299.46" class="pn">0,4172</text>
<text x="345.90" y="316.11" class="pn">0,4151</text>
<text x="345.90" y="332.75" class="pn">0,5702</text>
<text x="144.50" y="15.90" class="hdr">HD</text>
<text x="244.02" y="15.90" class="hdr">LD</text>
<text x="308.5" y="15.90" class="pf">p_adj_FDR</text>
<line x1="13.00" y1="20.00" x2="13.00" y2="336.30" stroke="#000" stroke-width="1" />
<path d="M12.50 20.00H293.95M12.50 336.30H293.95" stroke="#000" stroke-width="1.5" fill="none"/>
<path d="M93.55 103.44H293.95" stroke="#000" stroke-width="1.3" fill="none"/>
<path d="M93.55 20.00V336.30M193.45 20.00V336.30M293.20 19.25V337.05" stroke="#000" stroke-width="1.5" fill="none"/>
<rect x="302.90" y="20.00" width="83.90" height="316.30" stroke="#000" stroke-width="1.5" fill="none"/>
<line x1="302.90" y1="103.44" x2="386.80" y2="103.44" stroke="#000" stroke-width="1.3" />
<rect x="93.55" y="403.90" width="17.65" height="17.67" fill="#e8eef8"/>
<rect x="110.20" y="403.90" width="17.65" height="17.67" fill="#b4c9e6"/>
<rect x="126.85" y="403.90" width="17.65" height="17.67" fill="#5888c6"/>
<rect x="143.50" y="403.90" width="17.65" height="17.67" fill="#e8eef8"/>
<rect x="160.15" y="403.90" width="17.65" height="17.67" fill="#b4c9e6"/>
<rect x="176.80" y="403.90" width="17.65" height="17.67" fill="#5888c6"/>
<rect x="193.45" y="403.90" width="17.64" height="17.67" fill="#f99799"/>
<rect x="210.09" y="403.90" width="17.64" height="17.67" fill="#f8696b"/>
<rect x="226.73" y="403.90" width="17.64" height="17.67" fill="#fcedf0"/>
<rect x="243.38" y="403.90" width="17.64" height="17.67" fill="#f99799"/>
<rect x="260.02" y="403.90" width="17.64" height="17.67" fill="#f8696b"/>
<rect x="276.66" y="403.90" width="17.64" height="17.67" fill="#fcedf0"/>
<rect x="93.55" y="420.57" width="17.65" height="17.67" fill="#fceff2"/>
<rect x="110.20" y="420.57" width="17.65" height="17.67" fill="#fbc9cb"/>
<rect x="126.85" y="420.57" width="17.65" height="17.67" fill="#f8696b"/>
<rect x="143.50" y="420.57" width="17.65" height="17.67" fill="#fceff2"/>
<rect x="160.15" y="420.57" width="17.65" height="17.67" fill="#fbc9cb"/>
<rect x="176.80" y="420.57" width="17.65" height="17.67" fill="#f8696b"/>
<rect x="193.45" y="420.57" width="17.64" height="17.67" fill="#5888c6"/>
<rect x="210.09" y="420.57" width="17.64" height="17.67" fill="#eff3fa"/>
<rect x="226.73" y="420.57" width="17.64" height="17.67" fill="#7199cf"/>
<rect x="243.38" y="420.57" width="17.64" height="17.67" fill="#5888c6"/>
<rect x="260.02" y="420.57" width="17.64" height="17.67" fill="#eff3fa"/>
<rect x="276.66" y="420.57" width="17.64" height="17.67" fill="#7199cf"/>
<rect x="93.55" y="437.25" width="17.65" height="17.67" fill="#f8696b"/>
<rect x="110.20" y="437.25" width="17.65" height="17.67" fill="#fcfcff"/>
<rect x="126.85" y="437.25" width="17.65" height="17.67" fill="#fabbbe"/>
<rect x="143.50" y="437.25" width="17.65" height="17.67" fill="#f8696b"/>
<rect x="160.15" y="437.25" width="17.65" height="17.67" fill="#fcfcff"/>
<rect x="176.80" y="437.25" width="17.65" height="17.67" fill="#fabbbe"/>
<rect x="193.45" y="437.25" width="17.64" height="17.67" fill="#86a8d6"/>
<rect x="210.09" y="437.25" width="17.64" height="17.67" fill="#fcf6f9"/>
<rect x="226.73" y="437.25" width="17.64" height="17.67" fill="#5888c6"/>
<rect x="243.38" y="437.25" width="17.64" height="17.67" fill="#86a8d6"/>
<rect x="260.02" y="437.25" width="17.64" height="17.67" fill="#fcf6f9"/>
<rect x="276.66" y="437.25" width="17.64" height="17.67" fill="#5888c6"/>
<rect x="93.55" y="453.92" width="17.65" height="17.67" fill="#fab2b5"/>
<rect x="110.20" y="453.92" width="17.65" height="17.67" fill="#fcfcff"/>
<rect x="126.85" y="453.92" width="17.65" height="17.67" fill="#f8696b"/>
<rect x="143.50" y="453.92" width="17.65" height="17.67" fill="#fab2b5"/>
<rect x="160.15" y="453.92" width="17.65" height="17.67" fill="#fcfcff"/>
<rect x="176.80" y="453.92" width="17.65" height="17.67" fill="#f8696b"/>
<rect x="193.45" y="453.92" width="17.64" height="17.67" fill="#5888c6"/>
<rect x="210.09" y="453.92" width="17.64" height="17.67" fill="#fcfbfe"/>
<rect x="226.73" y="453.92" width="17.64" height="17.67" fill="#a2bce0"/>
<rect x="243.38" y="453.92" width="17.64" height="17.67" fill="#5888c6"/>
<rect x="260.02" y="453.92" width="17.64" height="17.67" fill="#fcfbfe"/>
<rect x="276.66" y="453.92" width="17.64" height="17.67" fill="#a2bce0"/>
<rect x="93.55" y="470.59" width="17.65" height="17.67" fill="#f8696b"/>
<rect x="110.20" y="470.59" width="17.65" height="17.67" fill="#fcfcff"/>
<rect x="126.85" y="470.59" width="17.65" height="17.67" fill="#faa8ab"/>
<rect x="143.50" y="470.59" width="17.65" height="17.67" fill="#f8696b"/>
<rect x="160.15" y="470.59" width="17.65" height="17.67" fill="#fcfcff"/>
<rect x="176.80" y="470.59" width="17.65" height="17.67" fill="#faa8ab"/>
<rect x="193.45" y="470.59" width="17.64" height="17.67" fill="#5888c6"/>
<rect x="210.09" y="470.59" width="17.64" height="17.67" fill="#fafbfe"/>
<rect x="226.73" y="470.59" width="17.64" height="17.67" fill="#e5ecf7"/>
<rect x="243.38" y="470.59" width="17.64" height="17.67" fill="#5888c6"/>
<rect x="260.02" y="470.59" width="17.64" height="17.67" fill="#fafbfe"/>
<rect x="276.66" y="470.59" width="17.64" height="17.67" fill="#e5ecf7"/>
<rect x="93.55" y="487.26" width="17.65" height="17.67" fill="#fbcacd"/>
<rect x="110.20" y="487.26" width="17.65" height="17.67" fill="#fbc6c8"/>
<rect x="126.85" y="487.26" width="17.65" height="17.67" fill="#f8696b"/>
<rect x="143.50" y="487.26" width="17.65" height="17.67" fill="#fbcacd"/>
<rect x="160.15" y="487.26" width="17.65" height="17.67" fill="#fbc6c8"/>
<rect x="176.80" y="487.26" width="17.65" height="17.67" fill="#f8696b"/>
<rect x="193.45" y="487.26" width="17.64" height="17.67" fill="#5888c6"/>
<rect x="210.09" y="487.26" width="17.64" height="17.67" fill="#f1f4fb"/>
<rect x="226.73" y="487.26" width="17.64" height="17.67" fill="#e0e8f5"/>
<rect x="243.38" y="487.26" width="17.64" height="17.67" fill="#5888c6"/>
<rect x="260.02" y="487.26" width="17.64" height="17.67" fill="#f1f4fb"/>
<rect x="276.66" y="487.26" width="17.64" height="17.67" fill="#e0e8f5"/>
<rect x="93.55" y="503.94" width="17.65" height="17.67" fill="#f8696b"/>
<rect x="110.20" y="503.94" width="17.65" height="17.67" fill="#f7f9fd"/>
<rect x="126.85" y="503.94" width="17.65" height="17.67" fill="#f87b7d"/>
<rect x="143.50" y="503.94" width="17.65" height="17.67" fill="#f8696b"/>
<rect x="160.15" y="503.94" width="17.65" height="17.67" fill="#f7f9fd"/>
<rect x="176.80" y="503.94" width="17.65" height="17.67" fill="#f87b7d"/>
<rect x="193.45" y="503.94" width="17.64" height="17.67" fill="#c1d2ea"/>
<rect x="210.09" y="503.94" width="17.64" height="17.67" fill="#fbd3d6"/>
<rect x="226.73" y="503.94" width="17.64" height="17.67" fill="#5888c6"/>
<rect x="243.38" y="503.94" width="17.64" height="17.67" fill="#c1d2ea"/>
<rect x="260.02" y="503.94" width="17.64" height="17.67" fill="#fbd3d6"/>
<rect x="276.66" y="503.94" width="17.64" height="17.67" fill="#5888c6"/>
<rect x="93.55" y="520.61" width="17.65" height="17.67" fill="#fab8bb"/>
<rect x="110.20" y="520.61" width="17.65" height="17.67" fill="#f1f4fb"/>
<rect x="126.85" y="520.61" width="17.65" height="17.67" fill="#f8696b"/>
<rect x="143.50" y="520.61" width="17.65" height="17.67" fill="#fab8bb"/>
<rect x="160.15" y="520.61" width="17.65" height="17.67" fill="#f1f4fb"/>
<rect x="176.80" y="520.61" width="17.65" height="17.67" fill="#f8696b"/>
<rect x="193.45" y="520.61" width="17.64" height="17.67" fill="#adc4e4"/>
<rect x="210.09" y="520.61" width="17.64" height="17.67" fill="#fbe9ec"/>
<rect x="226.73" y="520.61" width="17.64" height="17.67" fill="#5888c6"/>
<rect x="243.38" y="520.61" width="17.64" height="17.67" fill="#adc4e4"/>
<rect x="260.02" y="520.61" width="17.64" height="17.67" fill="#f99496"/>
<rect x="276.66" y="520.61" width="17.64" height="17.67" fill="#5888c6"/>
<rect x="93.55" y="537.28" width="17.65" height="17.67" fill="#faaaac"/>
<rect x="110.20" y="537.28" width="17.65" height="17.67" fill="#fcfcff"/>
<rect x="126.85" y="537.28" width="17.65" height="17.67" fill="#fcfbfe"/>
<rect x="143.50" y="537.28" width="17.65" height="17.67" fill="#faaaac"/>
<rect x="160.15" y="537.28" width="17.65" height="17.67" fill="#fcfcff"/>
<rect x="176.80" y="537.28" width="17.65" height="17.67" fill="#fcfbfe"/>
<rect x="193.45" y="537.28" width="17.64" height="17.67" fill="#d0ddf0"/>
<rect x="210.09" y="537.28" width="17.64" height="17.67" fill="#f8696b"/>
<rect x="226.73" y="537.28" width="17.64" height="17.67" fill="#5888c6"/>
<rect x="243.38" y="537.28" width="17.64" height="17.67" fill="#d0ddf0"/>
<rect x="260.02" y="537.28" width="17.64" height="17.67" fill="#f8696b"/>
<rect x="276.66" y="537.28" width="17.64" height="17.67" fill="#5888c6"/>
<rect x="93.55" y="553.95" width="17.65" height="17.67" fill="#ecf0f9"/>
<rect x="110.20" y="553.95" width="17.65" height="17.67" fill="#fceaed"/>
<rect x="126.85" y="553.95" width="17.65" height="17.67" fill="#f8696b"/>
<rect x="143.50" y="553.95" width="17.65" height="17.67" fill="#ecf0f9"/>
<rect x="160.15" y="553.95" width="17.65" height="17.67" fill="#fceaed"/>
<rect x="176.80" y="553.95" width="17.65" height="17.67" fill="#f8696b"/>
<rect x="193.45" y="553.95" width="17.64" height="17.67" fill="#f4f6fc"/>
<rect x="210.09" y="553.95" width="17.64" height="17.67" fill="#faaaac"/>
<rect x="226.73" y="553.95" width="17.64" height="17.67" fill="#5888c6"/>
<rect x="243.38" y="553.95" width="17.64" height="17.67" fill="#f4f6fc"/>
<rect x="260.02" y="553.95" width="17.64" height="17.67" fill="#faaaac"/>
<rect x="276.66" y="553.95" width="17.64" height="17.67" fill="#5888c6"/>
<rect x="93.55" y="570.63" width="17.65" height="17.67" fill="#fababc"/>
<rect x="110.20" y="570.63" width="17.65" height="17.67" fill="#fcfcff"/>
<rect x="126.85" y="570.63" width="17.65" height="17.67" fill="#fcf9fc"/>
<rect x="143.50" y="570.63" width="17.65" height="17.67" fill="#fababc"/>
<rect x="160.15" y="570.63" width="17.65" height="17.67" fill="#fcfcff"/>
<rect x="176.80" y="570.63" width="17.65" height="17.67" fill="#fcf9fc"/>
<rect x="193.45" y="570.63" width="17.64" height="17.67" fill="#f1f4fb"/>
<rect x="210.09" y="570.63" width="17.64" height="17.67" fill="#f8696b"/>
<rect x="226.73" y="570.63" width="17.64" height="17.67" fill="#5888c6"/>
<rect x="243.38" y="570.63" width="17.64" height="17.67" fill="#f1f4fb"/>
<rect x="260.02" y="570.63" width="17.64" height="17.67" fill="#f8696b"/>
<rect x="276.66" y="570.63" width="17.64" height="17.67" fill="#5888c6"/>
<text x="16.3" y="416.60" class="lab">LPC 14:0</text>
<text x="16.3" y="433.27" class="lab">LPC 16:1</text>
<text x="16.3" y="449.95" class="lab">LPC 18:1</text>
<text x="16.3" y="466.62" class="lab">LPC 20:2</text>
<text x="16.3" y="483.29" class="lab">LPC 16:0</text>
<text x="16.3" y="499.96" class="lab">LPC 20:1</text>
<text x="16.3" y="516.64" class="lab">LPC 20:3</text>
<text x="16.3" y="533.31" class="lab">LPC 18:2</text>
<text x="16.3" y="550.38" class="lab">LPC 22:4</text>
<text x="16.3" y="567.05" class="lab">LPC 18:3</text>
<text x="16.3" y="583.73" class="lab">LPC 20:4</text>
<text x="345.90" y="416.60" class="pb">0,0106</text>
<text x="345.90" y="433.27" class="pb">0,0064</text>
<text x="345.90" y="449.95" class="pb">0,0231</text>
<text x="345.90" y="466.62" class="pb">0,0235</text>
<text x="345.90" y="483.29" class="pb">0,0232</text>
<text x="345.90" y="499.96" class="pb">0,0345</text>
<text x="345.90" y="516.64" class="pb">0,0345</text>
<text x="345.90" y="533.31" class="pb">0,0356</text>
<text x="345.90" y="550.38" class="pn">0,1245</text>
<text x="345.90" y="567.05" class="pn">0,1712</text>
<text x="345.90" y="583.73" class="pn">0,2121</text>
<text x="144.50" y="399.80" class="hdr">HD</text>
<text x="244.07" y="399.80" class="hdr">LD</text>
<text x="308.5" y="399.80" class="pf">p_adj_FDR</text>
<line x1="13.00" y1="403.90" x2="13.00" y2="587.30" stroke="#000" stroke-width="1" />
<path d="M12.50 403.90H294.05M12.50 587.30H294.05" stroke="#000" stroke-width="1.5" fill="none"/>
<path d="M12.50 537.48H294.05" stroke="#000" stroke-width="1.3" fill="none"/>
<path d="M93.55 403.90V587.30M193.45 403.90V587.30M293.30 403.15V588.05" stroke="#000" stroke-width="1.5" fill="none"/>
<rect x="302.90" y="403.90" width="83.90" height="183.40" stroke="#000" stroke-width="1.5" fill="none"/>
<line x1="302.90" y1="537.48" x2="386.80" y2="537.48" stroke="#000" stroke-width="1.3" />
<rect x="92.80" y="668.00" width="17.69" height="17.75" fill="#f8696b"/>
<rect x="109.49" y="668.00" width="17.69" height="17.75" fill="#fbe0e3"/>
<rect x="126.18" y="668.00" width="17.69" height="17.75" fill="#fbe0e3"/>
<rect x="142.88" y="668.00" width="17.69" height="17.75" fill="#f8696b"/>
<rect x="159.57" y="668.00" width="17.69" height="17.75" fill="#fbe0e3"/>
<rect x="176.26" y="668.00" width="17.69" height="17.75" fill="#fbe0e3"/>
<rect x="192.95" y="668.00" width="17.68" height="17.75" fill="#5888c6"/>
<rect x="209.62" y="668.00" width="17.68" height="17.75" fill="#d8e2f2"/>
<rect x="226.30" y="668.00" width="17.68" height="17.75" fill="#d8e2f2"/>
<rect x="242.97" y="668.00" width="17.68" height="17.75" fill="#5888c6"/>
<rect x="259.65" y="668.00" width="17.68" height="17.75" fill="#d8e2f2"/>
<rect x="276.32" y="668.00" width="17.68" height="17.75" fill="#d8e2f2"/>
<rect x="92.80" y="684.75" width="17.69" height="17.75" fill="#f8696b"/>
<rect x="109.49" y="684.75" width="17.69" height="17.75" fill="#f1f4fb"/>
<rect x="126.18" y="684.75" width="17.69" height="17.75" fill="#fab2b5"/>
<rect x="142.88" y="684.75" width="17.69" height="17.75" fill="#f8696b"/>
<rect x="159.57" y="684.75" width="17.69" height="17.75" fill="#f1f4fb"/>
<rect x="176.26" y="684.75" width="17.69" height="17.75" fill="#fab2b5"/>
<rect x="192.95" y="684.75" width="17.68" height="17.75" fill="#5888c6"/>
<rect x="209.62" y="684.75" width="17.68" height="17.75" fill="#b4c9e6"/>
<rect x="226.30" y="684.75" width="17.68" height="17.75" fill="#fbe6e9"/>
<rect x="242.97" y="684.75" width="17.68" height="17.75" fill="#5888c6"/>
<rect x="259.65" y="684.75" width="17.68" height="17.75" fill="#b4c9e6"/>
<rect x="276.32" y="684.75" width="17.68" height="17.75" fill="#fbe6e9"/>
<rect x="92.80" y="701.50" width="17.69" height="17.75" fill="#fbdadd"/>
<rect x="109.49" y="701.50" width="17.69" height="17.75" fill="#f7f9fd"/>
<rect x="126.18" y="701.50" width="17.69" height="17.75" fill="#fbc6c8"/>
<rect x="142.88" y="701.50" width="17.69" height="17.75" fill="#fbdadd"/>
<rect x="159.57" y="701.50" width="17.69" height="17.75" fill="#f7f9fd"/>
<rect x="176.26" y="701.50" width="17.69" height="17.75" fill="#fbc6c8"/>
<rect x="192.95" y="701.50" width="17.68" height="17.75" fill="#5888c6"/>
<rect x="209.62" y="701.50" width="17.68" height="17.75" fill="#f8696b"/>
<rect x="226.30" y="701.50" width="17.68" height="17.75" fill="#dae4f3"/>
<rect x="242.97" y="701.50" width="17.68" height="17.75" fill="#5888c6"/>
<rect x="259.65" y="701.50" width="17.68" height="17.75" fill="#f8696b"/>
<rect x="276.32" y="701.50" width="17.68" height="17.75" fill="#dae4f3"/>
<rect x="92.80" y="718.25" width="17.69" height="17.75" fill="#f8696b"/>
<rect x="109.49" y="718.25" width="17.69" height="17.75" fill="#fbced1"/>
<rect x="126.18" y="718.25" width="17.69" height="17.75" fill="#dbe5f4"/>
<rect x="142.88" y="718.25" width="17.69" height="17.75" fill="#f8696b"/>
<rect x="159.57" y="718.25" width="17.69" height="17.75" fill="#fbced1"/>
<rect x="176.26" y="718.25" width="17.69" height="17.75" fill="#dbe5f4"/>
<rect x="192.95" y="718.25" width="17.68" height="17.75" fill="#bed0e9"/>
<rect x="209.62" y="718.25" width="17.68" height="17.75" fill="#f9898c"/>
<rect x="226.30" y="718.25" width="17.68" height="17.75" fill="#5888c6"/>
<rect x="242.97" y="718.25" width="17.68" height="17.75" fill="#bed0e9"/>
<rect x="259.65" y="718.25" width="17.68" height="17.75" fill="#f9898c"/>
<rect x="276.32" y="718.25" width="17.68" height="17.75" fill="#5888c6"/>
<rect x="92.80" y="735.00" width="17.69" height="17.75" fill="#fbd1d4"/>
<rect x="109.49" y="735.00" width="17.69" height="17.75" fill="#f8696b"/>
<rect x="126.18" y="735.00" width="17.69" height="17.75" fill="#c1d2ea"/>
<rect x="142.88" y="735.00" width="17.69" height="17.75" fill="#fbd1d4"/>
<rect x="159.57" y="735.00" width="17.69" height="17.75" fill="#f8696b"/>
<rect x="176.26" y="735.00" width="17.69" height="17.75" fill="#c1d2ea"/>
<rect x="192.95" y="735.00" width="17.68" height="17.75" fill="#5888c6"/>
<rect x="209.62" y="735.00" width="17.68" height="17.75" fill="#7199cf"/>
<rect x="226.30" y="735.00" width="17.68" height="17.75" fill="#f98c8f"/>
<rect x="242.97" y="735.00" width="17.68" height="17.75" fill="#5888c6"/>
<rect x="259.65" y="735.00" width="17.68" height="17.75" fill="#7199cf"/>
<rect x="276.32" y="735.00" width="17.68" height="17.75" fill="#f98c8f"/>
<rect x="92.80" y="751.75" width="17.69" height="17.75" fill="#faadaf"/>
<rect x="109.49" y="751.75" width="17.69" height="17.75" fill="#f9fafe"/>
<rect x="126.18" y="751.75" width="17.69" height="17.75" fill="#edf2fa"/>
<rect x="142.88" y="751.75" width="17.69" height="17.75" fill="#faadaf"/>
<rect x="159.57" y="751.75" width="17.69" height="17.75" fill="#f9fafe"/>
<rect x="176.26" y="751.75" width="17.69" height="17.75" fill="#edf2fa"/>
<rect x="192.95" y="751.75" width="17.68" height="17.75" fill="#fcf0f3"/>
<rect x="209.62" y="751.75" width="17.68" height="17.75" fill="#f8696b"/>
<rect x="226.30" y="751.75" width="17.68" height="17.75" fill="#5888c6"/>
<rect x="242.97" y="751.75" width="17.68" height="17.75" fill="#fcf0f3"/>
<rect x="259.65" y="751.75" width="17.68" height="17.75" fill="#f8696b"/>
<rect x="276.32" y="751.75" width="17.68" height="17.75" fill="#5888c6"/>
<rect x="107.29" y="680.00" width="1" height="1" fill="#000" fill-opacity="0.42"/>
<rect x="123.98" y="680.00" width="1" height="1" fill="#000" fill-opacity="0.18"/>
<rect x="140.68" y="680.00" width="1" height="1" fill="#000" fill-opacity="0.18"/>
<rect x="157.37" y="680.00" width="1" height="1" fill="#000" fill-opacity="0.42"/>
<rect x="174.06" y="680.00" width="1" height="1" fill="#000" fill-opacity="0.18"/>
<rect x="190.75" y="680.00" width="1" height="1" fill="#000" fill-opacity="0.18"/>
<rect x="207.43" y="680.00" width="1" height="1" fill="#000" fill-opacity="0.42"/>
<rect x="224.10" y="680.00" width="1" height="1" fill="#000" fill-opacity="0.19"/>
<rect x="240.78" y="680.00" width="1" height="1" fill="#000" fill-opacity="0.19"/>
<rect x="257.45" y="680.00" width="1" height="1" fill="#000" fill-opacity="0.42"/>
<rect x="274.12" y="680.00" width="1" height="1" fill="#000" fill-opacity="0.19"/>
<rect x="290.80" y="680.00" width="1" height="1" fill="#000" fill-opacity="0.19"/>
<rect x="107.29" y="696.75" width="1" height="1" fill="#000" fill-opacity="0.42"/>
<rect x="123.98" y="696.75" width="1" height="1" fill="#000" fill-opacity="0.14"/>
<rect x="140.68" y="696.75" width="1" height="1" fill="#000" fill-opacity="0.27"/>
<rect x="157.37" y="696.75" width="1" height="1" fill="#000" fill-opacity="0.42"/>
<rect x="174.06" y="696.75" width="1" height="1" fill="#000" fill-opacity="0.14"/>
<rect x="190.75" y="696.75" width="1" height="1" fill="#000" fill-opacity="0.27"/>
<rect x="207.43" y="696.75" width="1" height="1" fill="#000" fill-opacity="0.42"/>
<rect x="224.10" y="696.75" width="1" height="1" fill="#000" fill-opacity="0.25"/>
<rect x="240.78" y="696.75" width="1" height="1" fill="#000" fill-opacity="0.16"/>
<rect x="257.45" y="696.75" width="1" height="1" fill="#000" fill-opacity="0.42"/>
<rect x="274.12" y="696.75" width="1" height="1" fill="#000" fill-opacity="0.25"/>
<rect x="290.80" y="696.75" width="1" height="1" fill="#000" fill-opacity="0.16"/>
<rect x="107.29" y="713.50" width="1" height="1" fill="#000" fill-opacity="0.19"/>
<rect x="123.98" y="713.50" width="1" height="1" fill="#000" fill-opacity="0.13"/>
<rect x="140.68" y="713.50" width="1" height="1" fill="#000" fill-opacity="0.23"/>
<rect x="157.37" y="713.50" width="1" height="1" fill="#000" fill-opacity="0.19"/>
<rect x="174.06" y="713.50" width="1" height="1" fill="#000" fill-opacity="0.13"/>
<rect x="190.75" y="713.50" width="1" height="1" fill="#000" fill-opacity="0.23"/>
<rect x="207.43" y="713.50" width="1" height="1" fill="#000" fill-opacity="0.42"/>
<rect x="224.10" y="713.50" width="1" height="1" fill="#000" fill-opacity="0.42"/>
<rect x="240.78" y="713.50" width="1" height="1" fill="#000" fill-opacity="0.18"/>
<rect x="257.45" y="713.50" width="1" height="1" fill="#000" fill-opacity="0.42"/>
<rect x="274.12" y="713.50" width="1" height="1" fill="#000" fill-opacity="0.42"/>
<rect x="290.80" y="713.50" width="1" height="1" fill="#000" fill-opacity="0.18"/>
<rect x="107.29" y="730.25" width="1" height="1" fill="#000" fill-opacity="0.42"/>
<rect x="123.98" y="730.25" width="1" height="1" fill="#000" fill-opacity="0.21"/>
<rect x="140.68" y="730.25" width="1" height="1" fill="#000" fill-opacity="0.18"/>
<rect x="157.37" y="730.25" width="1" height="1" fill="#000" fill-opacity="0.42"/>
<rect x="174.06" y="730.25" width="1" height="1" fill="#000" fill-opacity="0.21"/>
<rect x="190.75" y="730.25" width="1" height="1" fill="#000" fill-opacity="0.18"/>
<rect x="207.43" y="730.25" width="1" height="1" fill="#000" fill-opacity="0.23"/>
<rect x="224.10" y="730.25" width="1" height="1" fill="#000" fill-opacity="0.35"/>
<rect x="240.78" y="730.25" width="1" height="1" fill="#000" fill-opacity="0.42"/>
<rect x="257.45" y="730.25" width="1" height="1" fill="#000" fill-opacity="0.23"/>
<rect x="274.12" y="730.25" width="1" height="1" fill="#000" fill-opacity="0.35"/>
<rect x="290.80" y="730.25" width="1" height="1" fill="#000" fill-opacity="0.42"/>
<rect x="107.29" y="747.00" width="1" height="1" fill="#000" fill-opacity="0.21"/>
<rect x="123.98" y="747.00" width="1" height="1" fill="#000" fill-opacity="0.42"/>
<rect x="140.68" y="747.00" width="1" height="1" fill="#000" fill-opacity="0.23"/>
<rect x="157.37" y="747.00" width="1" height="1" fill="#000" fill-opacity="0.21"/>
<rect x="174.06" y="747.00" width="1" height="1" fill="#000" fill-opacity="0.42"/>
<rect x="190.75" y="747.00" width="1" height="1" fill="#000" fill-opacity="0.23"/>
<rect x="207.43" y="747.00" width="1" height="1" fill="#000" fill-opacity="0.42"/>
<rect x="224.10" y="747.00" width="1" height="1" fill="#000" fill-opacity="0.38"/>
<rect x="240.78" y="747.00" width="1" height="1" fill="#000" fill-opacity="0.35"/>
<rect x="257.45" y="747.00" width="1" height="1" fill="#000" fill-opacity="0.42"/>
<rect x="274.12" y="747.00" width="1" height="1" fill="#000" fill-opacity="0.38"/>
<rect x="290.80" y="747.00" width="1" height="1" fill="#000" fill-opacity="0.35"/>
<rect x="107.29" y="763.75" width="1" height="1" fill="#000" fill-opacity="0.28"/>
<rect x="123.98" y="763.75" width="1" height="1" fill="#000" fill-opacity="0.13"/>
<rect x="140.68" y="763.75" width="1" height="1" fill="#000" fill-opacity="0.15"/>
<rect x="157.37" y="763.75" width="1" height="1" fill="#000" fill-opacity="0.28"/>
<rect x="174.06" y="763.75" width="1" height="1" fill="#000" fill-opacity="0.13"/>
<rect x="190.75" y="763.75" width="1" height="1" fill="#000" fill-opacity="0.15"/>
<rect x="207.43" y="763.75" width="1" height="1" fill="#000" fill-opacity="0.14"/>
<rect x="224.10" y="763.75" width="1" height="1" fill="#000" fill-opacity="0.42"/>
<rect x="240.78" y="763.75" width="1" height="1" fill="#000" fill-opacity="0.42"/>
<rect x="257.45" y="763.75" width="1" height="1" fill="#000" fill-opacity="0.14"/>
<rect x="274.12" y="763.75" width="1" height="1" fill="#000" fill-opacity="0.42"/>
<rect x="290.80" y="763.75" width="1" height="1" fill="#000" fill-opacity="0.42"/>
<text x="16.3" y="680.70" class="lab">LPE 18:1</text>
<text x="16.3" y="697.45" class="lab">LPE 18:2</text>
<text x="16.3" y="714.60" class="lab">LPE 18:0</text>
<text x="16.3" y="731.35" class="lab">LPE 22:4</text>
<text x="16.3" y="748.10" class="lab">LPE 16:0</text>
<text x="16.3" y="764.85" class="lab">LPE 20:4</text>
<text x="345.90" y="680.70" class="pb">0,0257</text>
<text x="345.90" y="697.45" class="pb">0,0471</text>
<text x="345.90" y="714.60" class="pn">0,2276</text>
<text x="345.90" y="731.35" class="pn">0,2134</text>
<text x="345.90" y="748.10" class="pn">0,2174</text>
<text x="345.90" y="764.85" class="pn">0,4093</text>
<text x="143.88" y="663.90" class="hdr">HD</text>
<text x="243.67" y="663.90" class="hdr">LD</text>
<text x="308.5" y="663.90" class="pf">p_adj_FDR</text>
<line x1="13.00" y1="668.00" x2="13.00" y2="768.50" stroke="#000" stroke-width="1" />
<path d="M12.50 668.00H293.75M12.50 768.50H293.75" stroke="#000" stroke-width="1.5" fill="none"/>
<path d="M12.50 701.70H293.75" stroke="#000" stroke-width="1.3" fill="none"/>
<path d="M92.80 668.00V768.50M192.95 668.00V768.50M293.00 667.25V769.25" stroke="#000" stroke-width="1.5" fill="none"/>
<rect x="302.90" y="668.00" width="83.90" height="100.50" stroke="#000" stroke-width="1.5" fill="none"/>
<line x1="302.90" y1="701.70" x2="386.80" y2="701.70" stroke="#000" stroke-width="1.3" />
<line x1="439.15" y1="301.80" x2="609.00" y2="301.80" stroke="#d9d9d9" stroke-width="1.9"/>
<line x1="438.40" y1="110.25" x2="438.40" y2="301.80" stroke="#1f6385" stroke-width="1.5"/>
<line x1="438.40" y1="111.00" x2="444.40" y2="111.00" stroke="#1f6385" stroke-width="1.5"/>
<text x="431.00" y="117.50" class="tick">30</text>
<line x1="438.40" y1="174.60" x2="444.40" y2="174.60" stroke="#1f6385" stroke-width="1.5"/>
<text x="431.00" y="181.10" class="tick">20</text>
<line x1="438.40" y1="238.20" x2="444.40" y2="238.20" stroke="#1f6385" stroke-width="1.5"/>
<text x="431.00" y="244.70" class="tick">10</text>
<text x="431.00" y="308.30" class="tick">0</text>
<rect x="468.00" y="155.20" width="26.50" height="146.10" fill="#7eb4df"/>
<path d="M481.00 134.20V176.40M476.10 134.20H485.90M476.10 176.40H485.90" stroke="#555" stroke-width="1.6" fill="none"/>
<text x="481.20" y="142.10" class="let">a</text>
<text x="483.60" y="320.60" class="xl">HD</text>
<rect x="553.00" y="196.80" width="26.60" height="104.50" fill="#d96466"/>
<path d="M566.10 185.40V207.70M561.20 185.40H571.00M561.20 207.70H571.00" stroke="#555" stroke-width="1.6" fill="none"/>
<text x="566.10" y="182.60" class="let">b</text>
<text x="569.00" y="320.60" class="xl">LD</text>
<text x="485.50" y="75.80" class="ttl">Total PC</text>
<text x="592.30" y="75.80" class="ttl">(a)</text>
<line x1="445.55" y1="563.30" x2="631.00" y2="563.30" stroke="#d9d9d9" stroke-width="1.9"/>
<line x1="444.80" y1="403.45" x2="444.80" y2="563.30" stroke="#1f6385" stroke-width="1.5"/>
<line x1="444.80" y1="404.20" x2="450.80" y2="404.20" stroke="#1f6385" stroke-width="1.5"/>
<text x="437.40" y="410.70" class="tick">30</text>
<line x1="444.80" y1="457.20" x2="450.80" y2="457.20" stroke="#1f6385" stroke-width="1.5"/>
<text x="437.40" y="463.70" class="tick">20</text>
<line x1="444.80" y1="510.30" x2="450.80" y2="510.30" stroke="#1f6385" stroke-width="1.5"/>
<text x="437.40" y="516.80" class="tick">10</text>
<text x="437.40" y="569.80" class="tick">0</text>
<rect x="476.80" y="488.00" width="29.00" height="74.80" fill="#7eb4df"/>
<path d="M491.30 483.60V492.00M486.40 483.60H496.20M486.40 492.00H496.20" stroke="#555" stroke-width="1.6" fill="none"/>
<text x="491.30" y="473.80" class="let">b</text>
<text x="493.30" y="582.10" class="xl">HD</text>
<rect x="570.20" y="463.90" width="28.80" height="98.90" fill="#d96466"/>
<path d="M584.60 443.40V483.60M579.70 443.40H589.50M579.70 483.60H589.50" stroke="#555" stroke-width="1.6" fill="none"/>
<text x="584.80" y="449.70" class="let">a</text>
<text x="587.20" y="582.10" class="xl">LD</text>
<text x="482.80" y="383.60" class="ttl">Total LPC</text>
<text x="614.30" y="383.60" class="ttl">(b)</text>
<line x1="460.15" y1="805.30" x2="624.60" y2="805.30" stroke="#d9d9d9" stroke-width="1.9"/>
<line x1="459.40" y1="677.55" x2="459.40" y2="805.30" stroke="#1f6385" stroke-width="1.5"/>
<line x1="459.40" y1="678.30" x2="465.40" y2="678.30" stroke="#1f6385" stroke-width="1.5"/>
<text x="452.00" y="684.80" class="tick">0.4</text>
<line x1="459.40" y1="710.05" x2="465.40" y2="710.05" stroke="#1f6385" stroke-width="1.5"/>
<text x="452.00" y="716.55" class="tick">0.3</text>
<line x1="459.40" y1="741.80" x2="465.40" y2="741.80" stroke="#1f6385" stroke-width="1.5"/>
<text x="452.00" y="748.30" class="tick">0.2</text>
<line x1="459.40" y1="773.55" x2="465.40" y2="773.55" stroke="#1f6385" stroke-width="1.5"/>
<text x="452.00" y="780.05" class="tick">0.1</text>
<text x="452.00" y="811.80" class="tick">0</text>
<rect x="488.30" y="719.60" width="25.40" height="85.20" fill="#7eb4df"/>
<path d="M501.00 713.00V725.60M496.10 713.00H505.90M496.10 725.60H505.90" stroke="#555" stroke-width="1.6" fill="none"/>
<text x="501.00" y="705.00" class="let">b</text>
<text x="503.20" y="823.70" class="xl">HD</text>
<rect x="570.70" y="703.90" width="25.90" height="100.90" fill="#d96466"/>
<path d="M583.60 691.60V715.70M578.70 691.60H588.50M578.70 715.70H588.50" stroke="#555" stroke-width="1.6" fill="none"/>
<text x="583.60" y="690.00" class="let">a</text>
<text x="586.50" y="823.70" class="xl">LD</text>
<text x="485.60" y="645.00" class="ttl">Total LPE</text>
<text x="607.80" y="645.00" class="ttl">(c)</text>
<line x1="0" y1="0.9" x2="685" y2="0.9" stroke="#666" stroke-width="1.8" stroke-dasharray="4.9 1.3"/>
<line x1="0" y1="848.4" x2="685" y2="848.4" stroke="#333" stroke-width="1.5" stroke-dasharray="4.9 1.3" stroke-dashoffset="-1.2"/>
<line x1="0.9" y1="0" x2="0.9" y2="849" stroke="#6e6e6e" stroke-width="1.8" stroke-dasharray="5.05 1.0" stroke-dashoffset="-1.5"/>
<line x1="684.0" y1="0" x2="684.0" y2="849" stroke="#6e6e6e" stroke-width="1.8" stroke-dasharray="4.9 1.15" stroke-dashoffset="-1.3"/>
<line x1="0" y1="338.5" x2="685" y2="338.5" stroke="#333" stroke-width="1.5" stroke-dasharray="4.8 1.3" stroke-dashoffset="-2.65"/>
<line x1="0" y1="600.0" x2="685" y2="600.0" stroke="#333" stroke-width="1.5" stroke-dasharray="4.8 1.3" stroke-dashoffset="-1.3"/>
</svg>
</body></html>
